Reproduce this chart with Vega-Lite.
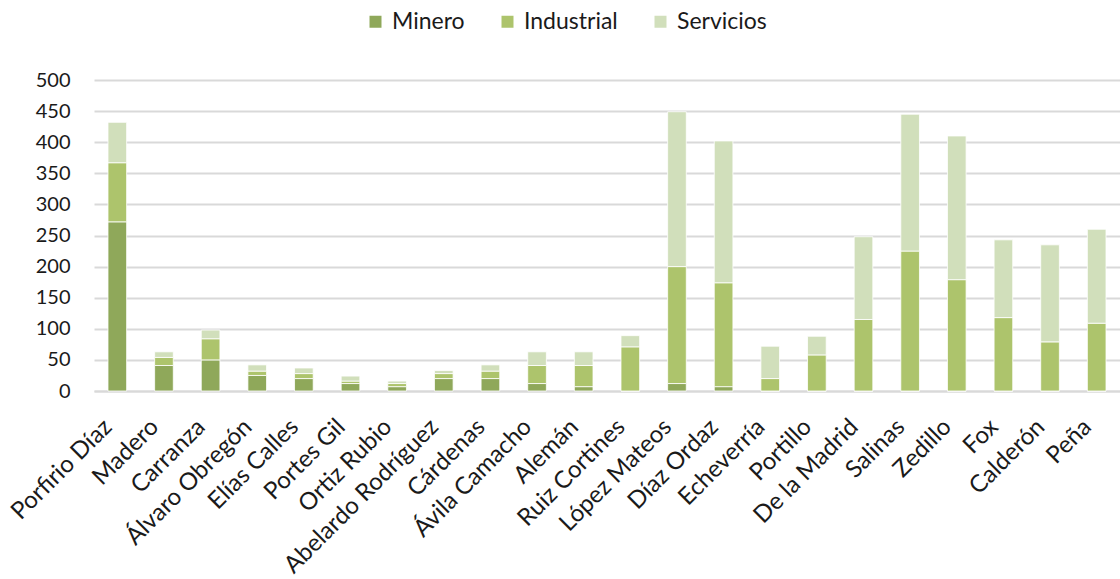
{
  "$schema": "https://vega.github.io/schema/vega-lite/v6.json",
  "autosize": {"type": "none"},
  "padding": {"left": 94, "top": 80, "right": 0, "bottom": 188},
  "width": 1026,
  "height": 311,
  "background": "white",
  "data": {
    "values": [
      {"presidente": "Porfirio Díaz", "Minero": 272, "Industrial": 95, "Servicios": 65},
      {"presidente": "Madero", "Minero": 41, "Industrial": 13, "Servicios": 9},
      {"presidente": "Carranza", "Minero": 50, "Industrial": 34, "Servicios": 14},
      {"presidente": "Álvaro Obregón", "Minero": 25, "Industrial": 7, "Servicios": 10},
      {"presidente": "Elías Calles", "Minero": 20, "Industrial": 8, "Servicios": 9},
      {"presidente": "Portes Gil", "Minero": 12, "Industrial": 4, "Servicios": 8},
      {"presidente": "Ortiz Rubio", "Minero": 7, "Industrial": 5, "Servicios": 4},
      {"presidente": "Abelardo Rodríguez", "Minero": 20, "Industrial": 8, "Servicios": 5},
      {"presidente": "Cárdenas", "Minero": 20, "Industrial": 12, "Servicios": 10},
      {"presidente": "Ávila Camacho", "Minero": 12, "Industrial": 29, "Servicios": 22},
      {"presidente": "Alemán", "Minero": 7, "Industrial": 34, "Servicios": 22},
      {"presidente": "Ruiz Cortines", "Minero": 0, "Industrial": 71, "Servicios": 18},
      {"presidente": "López Mateos", "Minero": 12, "Industrial": 188, "Servicios": 249},
      {"presidente": "Díaz Ordaz", "Minero": 7, "Industrial": 167, "Servicios": 228},
      {"presidente": "Echeverría", "Minero": 0, "Industrial": 20, "Servicios": 52},
      {"presidente": "Portillo", "Minero": 0, "Industrial": 58, "Servicios": 30},
      {"presidente": "De la Madrid", "Minero": 0, "Industrial": 115, "Servicios": 133},
      {"presidente": "Salinas", "Minero": 0, "Industrial": 225, "Servicios": 220},
      {"presidente": "Zedillo", "Minero": 0, "Industrial": 179, "Servicios": 231},
      {"presidente": "Fox", "Minero": 0, "Industrial": 118, "Servicios": 125},
      {"presidente": "Calderón", "Minero": 0, "Industrial": 79, "Servicios": 156},
      {"presidente": "Peña", "Minero": 0, "Industrial": 109, "Servicios": 151}
    ]
  },
  "transform": [
    {"fold": ["Minero", "Industrial", "Servicios"], "as": ["sector", "valor"]},
    {
      "lookup": "sector",
      "from": {
        "data": {
          "values": [
            {"sector": "Minero", "orden": 1},
            {"sector": "Industrial", "orden": 2},
            {"sector": "Servicios", "orden": 3}
          ]
        },
        "key": "sector",
        "fields": ["orden"]
      }
    }
  ],
  "mark": {"type": "bar", "stroke": "white", "strokeWidth": 0.8},
  "encoding": {
    "x": {
      "field": "presidente",
      "type": "nominal",
      "sort": null,
      "scale": {"paddingInner": 0.6, "paddingOuter": 0.3},
      "axis": {
        "title": null,
        "labelAngle": -45,
        "labelAlign": "right",
        "labelBaseline": "middle",
        "labelPadding": 32,
        "labelOffset": -9,
        "labelLimit": 400,
        "labelFontSize": 24,
        "labelFont": "Lato",
        "labelColor": "#1a1a1a",
        "ticks": false,
        "domainColor": "#d9d9d9",
        "domainWidth": 2,
        "grid": false
      }
    },
    "y": {
      "field": "valor",
      "type": "quantitative",
      "stack": "zero",
      "scale": {"domain": [0, 500], "nice": false},
      "axis": {
        "title": null,
        "values": [0, 50, 100, 150, 200, 250, 300, 350, 400, 450, 500],
        "labelFontSize": 20,
        "labelFont": "Lato",
        "labelColor": "#1a1a1a",
        "labelPadding": 24,
        "ticks": false,
        "domain": false,
        "grid": true,
        "gridColor": "#d9d9d9",
        "gridWidth": 2
      }
    },
    "color": {
      "field": "sector",
      "type": "nominal",
      "sort": ["Minero", "Industrial", "Servicios"],
      "scale": {
        "domain": ["Minero", "Industrial", "Servicios"],
        "range": ["#8fa85a", "#adc46c", "#d1dfbb"]
      },
      "legend": {
        "title": null,
        "orient": "none",
        "direction": "horizontal",
        "legendX": 270,
        "legendY": -70,
        "symbolType": "square",
        "symbolSize": 144,
        "symbolStrokeWidth": 0,
        "labelFontSize": 23,
        "labelFont": "Lato",
        "labelColor": "#1a1a1a",
        "labelOffset": 5,
        "columnPadding": 31
      }
    },
    "order": {"field": "orden", "type": "quantitative", "sort": "ascending"}
  },
  "config": {"view": {"stroke": null}}
}
